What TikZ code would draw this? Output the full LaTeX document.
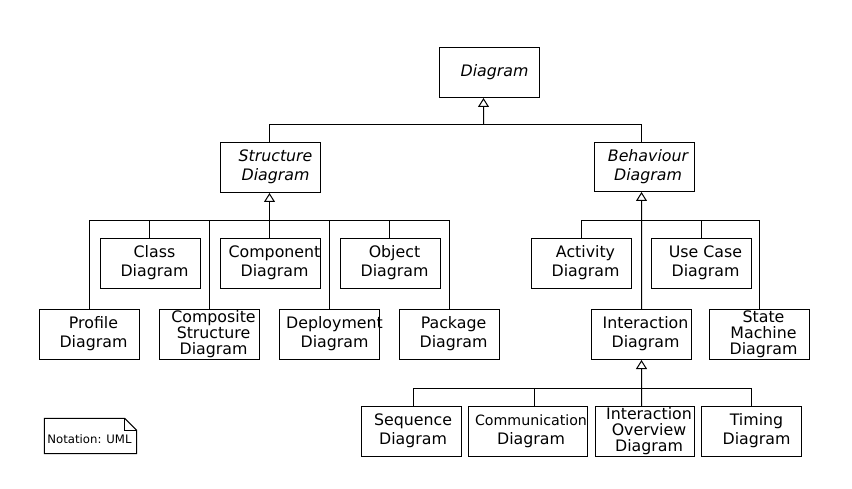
\documentclass[tikz,border=0pt]{standalone}
\usepackage{fontspec}
\setmainfont{DejaVu Sans}
\usetikzlibrary{arrows.meta}
\newcommand{\fnt}{\fontsize{15.8bp}{19bp}\selectfont}
\newcommand{\lbl}[2][8bp]{\makebox[0pt]{\hspace*{#1}\begin{tabular}{@{}c@{}}#2\end{tabular}}}
\newcommand{\ilbl}[2][10bp]{\makebox[0pt]{\itshape\hspace*{#1}\begin{tabular}{@{}c@{}}#2\end{tabular}}}
\newcommand{\tlbl}[1]{\makebox[0pt]{\hspace*{8bp}\fontsize{15.8bp}{13bp}\selectfont\begin{tabular}{@{}c@{}}#1\end{tabular}}}
\tikzset{
  box/.style={draw, line width=1bp, minimum width=100bp, minimum height=50bp, inner sep=0pt, font=\fnt},
  wire/.style={line width=1bp},
  gen/.style={wire, -{Triangle[open,length=9bp,width=11bp]}},
}
\begin{document}
\begin{tikzpicture}[x=1bp,y=-1bp]
\fill[white] (-0.5,-0.5) rectangle (851.5,488.5);
\useasboundingbox (-0.5,-0.5) rectangle (851.5,488.5);
% top
\node[box] (d) at (489,72) {\ilbl{Diagram}};
\node[box] (sd) at (270,167) {\ilbl{Structure\\Diagram}};
\node[box, minimum height=49bp] (bd) at (644,166.5) {\ilbl[7bp]{Behaviour\\Diagram}};
% structure children
\node[box] (cls) at (150,263) {\lbl{Class\\Diagram}};
\node[box] (cmp) at (270,263) {\lbl{Component\\Diagram}};
\node[box] (obj) at (390,263) {\lbl{Object\\Diagram}};
\node[box] (prf) at (89,334) {\lbl{Profile\\Diagram}};
\node[box] (cps) at (209,334) {\tlbl{Composite\\Structure\\Diagram}};
\node[box] (dep) at (329,334) {\lbl[10bp]{Deployment\\Diagram}};
\node[box] (pkg) at (449,334) {\lbl{Package\\Diagram}};
% behaviour children
\node[box] (act) at (581,263) {\lbl{Activity\\Diagram}};
\node[box] (uc) at (701,263) {\lbl{Use Case\\Diagram}};
\node[box] (int) at (641,334) {\lbl{Interaction\\Diagram}};
\node[box] (sm) at (759,334) {\tlbl{State\\Machine\\Diagram}};
% interaction children
\node[box] (seq) at (411,431) {\lbl[3bp]{Sequence\\Diagram}};
\node[box, minimum width=119bp] (com) at (527.5,431) {\lbl[6bp]{{\fontsize{14.2bp}{19bp}\selectfont Communication}\\Diagram}};
\node[box, minimum width=99bp] (io) at (644.5,431) {\tlbl{Interaction\\Overview\\Diagram}};
\node[box] (tim) at (751,431) {\lbl[10bp]{Timing\\Diagram}};
% note
\node[minimum width=92bp, minimum height=35bp, inner sep=0pt] (note) at (90,435.5) {};
\draw[wire] (note.south west) -- (note.north west) -- ([xshift=-12bp]note.north east)
  -- ([yshift=-12bp]note.north east) -- (note.south east) -- cycle;
\draw[line width=0.8bp] ([xshift=-12bp]note.north east) -- ([xshift=-12bp,yshift=-12bp]note.north east) -- ([yshift=-12bp]note.north east);
\node[font=\fontsize{11.7bp}{14bp}\selectfont, inner sep=0pt] (notetext) at (89,439) {Notation: UML};
% buses
\coordinate (dbus) at (483,124);
\coordinate (sbus) at (269,220);
\coordinate (bbus) at (641,220);
\coordinate (ibus) at (641,388);
% generalizations to Diagram
\draw[wire] ([xshift=-1bp]sd.north) |- (dbus) -| ([xshift=-3bp]bd.north);
\draw[gen] (dbus) -- ([xshift=-6bp]d.south);
% to Structure Diagram
\draw[wire] (prf.north) |- (pkg.north |- sbus) -- (pkg.north);
\foreach \c in {cps,dep}
  \draw[wire] (\c.north) -- (\c.north |- sbus);
\foreach \c in {cls,obj}
  \draw[wire] ([xshift=-1bp]\c.north) -- ([xshift=-1bp]\c.north |- sbus);
\draw[gen] ([xshift=-1bp]cmp.north) -- ([xshift=-1bp]sd.south);
% to Behaviour Diagram
\draw[wire] (act.north) |- (sm.north |- bbus) -- (sm.north);
\draw[wire] (uc.north) -- (uc.north |- bbus);
\draw[gen] (int.north) -- ([xshift=-3bp]bd.south);
% to Interaction Diagram
\draw[wire] ([xshift=2bp]seq.north) |- (tim.north |- ibus) -- (tim.north);
\draw[wire] ([xshift=6.5bp]com.north) -- ([xshift=6.5bp]com.north |- ibus);
\draw[gen] ([xshift=-3.5bp]io.north) -- (int.south);
\end{tikzpicture}
\end{document}
